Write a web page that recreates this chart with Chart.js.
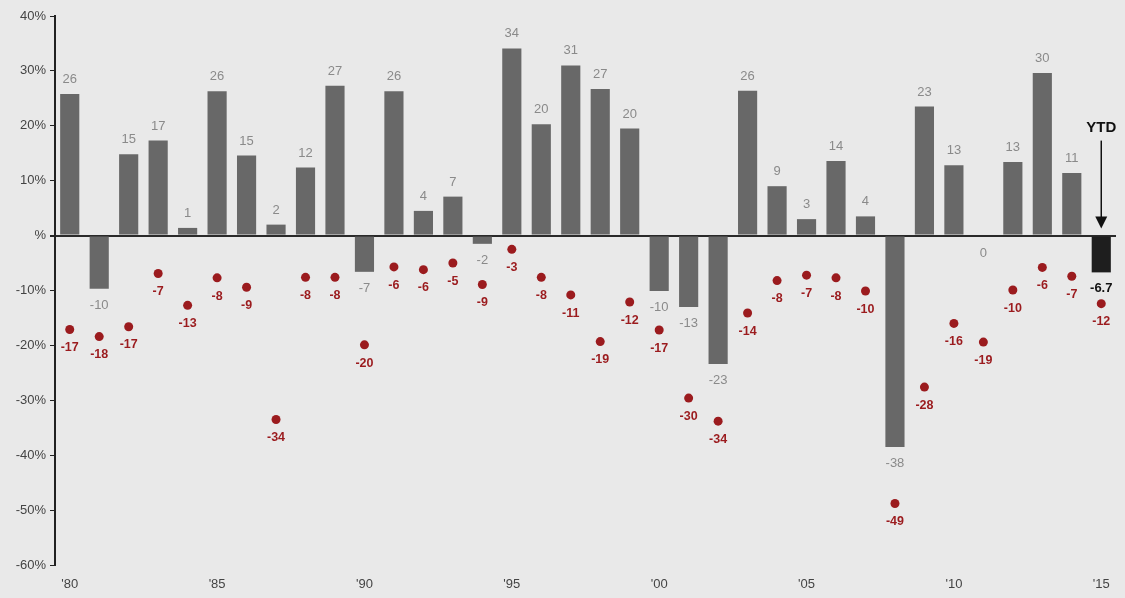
<!DOCTYPE html>
<html>
<head>
<meta charset="utf-8">
<script src="https://cdn.jsdelivr.net/npm/chart.js@4.4.1/dist/chart.umd.min.js"></script>
<style>
html,body{margin:0;padding:0;background:#e9e9e9;}
#wrap{width:1125px;height:598px;position:relative;}
</style>
</head>
<body>
<div id="wrap"><canvas id="c" width="1125" height="598"></canvas></div>
<script>
const years = ["'80","'81","'82","'83","'84","'85","'86","'87","'88","'89","'90","'91","'92","'93","'94","'95","'96","'97","'98","'99","'00","'01","'02","'03","'04","'05","'06","'07","'08","'09","'10","'11","'12","'13","'14","'15"];
const annualReturns = [25.8,-9.7,14.8,17.3,1.4,26.3,14.6,2.0,12.4,27.3,-6.6,26.3,4.5,7.1,-1.5,34.1,20.3,31.0,26.7,19.5,-10.1,-13.0,-23.4,26.4,9.0,3.0,13.6,3.5,-38.5,23.5,12.8,0.0,13.4,29.6,11.4,-6.7];
const returnLabels = ["26","-10","15","17","1","26","15","2","12","27","-7","26","4","7","-2","34","20","31","27","20","-10","-13","-23","26","9","3","14","4","-38","23","13","0","13","30","11","-6.7"];
const intraYearDrops = [-17.1,-18.4,-16.6,-6.9,-12.7,-7.7,-9.4,-33.5,-7.6,-7.6,-19.9,-5.7,-6.2,-5.0,-8.9,-2.5,-7.6,-10.8,-19.3,-12.1,-17.2,-29.6,-33.8,-14.1,-8.2,-7.2,-7.7,-10.1,-48.8,-27.6,-16.0,-19.4,-9.9,-5.8,-7.4,-12.4];
const dropLabels = ["-17","-18","-17","-7","-13","-8","-9","-34","-8","-8","-20","-6","-6","-5","-9","-3","-8","-11","-19","-12","-17","-30","-34","-14","-8","-7","-8","-10","-49","-28","-16","-19","-10","-6","-7","-12"];
const yTicks = [-60,-50,-40,-30,-20,-10,0,10,20,30,40];

const FONT = "'Liberation Sans', Arial, sans-serif";

const labelPlugin = {
  id: 'labels',
  afterDatasetsDraw(chart) {
    const ctx = chart.ctx;
    const barMeta = chart.getDatasetMeta(0);
    const dotMeta = chart.getDatasetMeta(1);
    ctx.save();
    ctx.textAlign = 'center';
    barMeta.data.forEach((el, i) => {
      const v = annualReturns[i];
      const last = i === annualReturns.length - 1;
      ctx.font = (last ? 'bold 13px ' : '13px ') + FONT;
      ctx.fillStyle = last ? '#111' : '#8a8a8a';
      if (v > 0) {
        ctx.textBaseline = 'bottom';
        ctx.fillText(returnLabels[i], el.x, el.y - 8);
      } else if (v === 0) {
        ctx.textBaseline = 'top';
        ctx.fillText(returnLabels[i], el.x, el.y + 11);
      } else {
        ctx.textBaseline = 'top';
        ctx.fillText(returnLabels[i], el.x, el.y + 10);
      }
    });
    ctx.font = 'bold 12.5px ' + FONT;
    ctx.fillStyle = '#9b1b1e';
    ctx.textBaseline = 'top';
    dotMeta.data.forEach((el, i) => {
      ctx.fillText(dropLabels[i], el.x, el.y + 12);
    });
    // YTD arrow
    const lastEl = barMeta.data[barMeta.data.length - 1];
    const x = lastEl.x;
    const y0 = chart.scales.y.getPixelForValue(0);
    ctx.fillStyle = '#111';
    ctx.font = 'bold 15px ' + FONT;
    ctx.textBaseline = 'middle';
    ctx.fillText('YTD', x, y0 - 108);
    ctx.strokeStyle = '#111';
    ctx.lineWidth = 1.5;
    ctx.beginPath();
    ctx.moveTo(x, y0 - 95);
    ctx.lineTo(x, y0 - 14);
    ctx.stroke();
    ctx.beginPath();
    ctx.moveTo(x - 6, y0 - 19);
    ctx.lineTo(x + 6, y0 - 19);
    ctx.lineTo(x, y0 - 7);
    ctx.closePath();
    ctx.fill();
    ctx.restore();
  }
};

const bgPlugin = {
  id: 'bg',
  beforeDraw(chart) {
    const ctx = chart.ctx;
    ctx.save();
    ctx.fillStyle = '#e9e9e9';
    ctx.fillRect(0, 0, chart.width, chart.height);
    ctx.restore();
  }
};

new Chart(document.getElementById('c'), {
  type: 'bar',
  data: {
    labels: years,
    datasets: [
      {
        type: 'bar',
        data: annualReturns,
        backgroundColor: annualReturns.map((v, i) => i === annualReturns.length - 1 ? '#1e1e1e' : '#686868'),
        barPercentage: 0.65,
        categoryPercentage: 1.0,
        order: 2
      },
      {
        type: 'line',
        data: intraYearDrops,
        showLine: false,
        pointRadius: 4.5,
        pointBackgroundColor: '#9b1b1e',
        pointBorderWidth: 0,
        order: 1
      }
    ]
  },
  options: {
    responsive: false,
    animation: false,
    devicePixelRatio: 1,
    layout: { padding: { left: 0, right: 9, top: 16, bottom: 0 } },
    plugins: { legend: { display: false }, tooltip: { enabled: false } },
    scales: {
      x: {
        offset: true,
        grid: { display: false },
        border: { display: false },
        ticks: {
          autoSkip: false,
          maxRotation: 0,
          color: '#444',
          font: { family: FONT, size: 13 },
          padding: 4,
          callback: function(val, idx) { return idx % 5 === 0 ? years[idx] : ''; }
        },
        afterFit(scale) { scale.height = 33; }
      },
      y: {
        min: -60,
        max: 40,
        afterBuildTicks(scale) { scale.ticks = yTicks.map(v => ({ value: v })); },
        border: { display: true, color: '#222', width: 2 },
        grid: {
          drawOnChartArea: true,
          drawTicks: true,
          tickLength: 5,
          tickColor: '#222',
          color: ctx => (ctx.tick && ctx.tick.value === 0) ? '#2a2a2a' : 'rgba(0,0,0,0)',
          lineWidth: ctx => (ctx.tick && ctx.tick.value === 0) ? 2 : 1
        },
        ticks: {
          color: '#444',
          font: { family: FONT, size: 13 },
          padding: 4,
          callback: v => v === 0 ? '%' : v + '%'
        },
        afterFit(scale) { scale.width = 55; }
      }
    }
  },
  plugins: [bgPlugin, labelPlugin]
});
</script>
</body>
</html>
